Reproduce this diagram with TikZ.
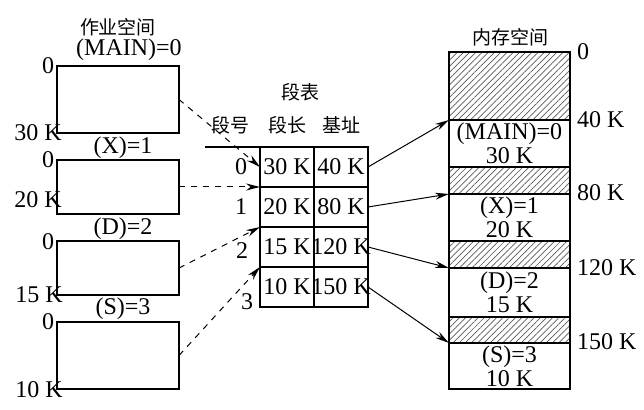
\documentclass[tikz,border=0pt]{standalone}
\usepackage{fontspec}
\setmainfont{Liberation Serif}
\newfontfamily\cjk{Noto Sans CJK SC}
\usetikzlibrary{positioning,arrows.meta,patterns.meta}

\begin{document}
\begin{tikzpicture}[
    x=0.5pt, y=-0.5pt,
    every node/.style={font=\fontsize{12}{12}\selectfont, inner sep=0pt, outer sep=0pt},
    zh/.style={font=\cjk\fontsize{9.5}{10}\selectfont},
    jobbox/.style={draw, line width=1.4pt, minimum width=61pt},
    cell/.style={draw, line width=1.3pt, minimum width=27pt, minimum height=20pt},
    memblk/.style={draw, line width=1.3pt, minimum width=60.5pt, align=center},
    hatch/.style={memblk, pattern={Lines[angle=45, distance=2.2pt, line width=0.35pt]}, pattern color=black!65},
    jobflow/.style={dashed, line width=0.5pt, -{Stealth[length=7pt,width=3.5pt]}},
    memflow/.style={line width=0.5pt, -{Stealth[length=7pt,width=3.5pt]}}
  ]
  \useasboundingbox (0,0) rectangle (644,410);

  % ---------- job space -------------
  \node[zh] (jobtitle) at (118,27) {作业空间};
  \node (mainname) at (129,50) {(MAIN)=0};
  \node[jobbox, minimum height=33.5pt] (jmain) at (118,99.5) {};
  \node (xname) at (123,148) {(X)=1};
  \node[jobbox, minimum height=27pt] (jx) at (118,187) {};
  \node (dname) at (123,229) {(D)=2};
  \node[jobbox, minimum height=27pt] (jd) at (118,268) {};
  \node (sname) at (123,309) {(S)=3};
  \node[jobbox, minimum height=33.5pt] (js) at (118,355.5) {};

  \node (mz) at (48,66) {0};
  \node (mend) at (38,133) {30 K};
  \node (xz) at (48,160) {0};
  \node (xend) at (38,200) {20 K};
  \node (dz) at (48,242) {0};
  \node (dend) at (39,295) {15 K};
  \node (sz) at (48,322) {0};
  \node (send) at (39,390) {10 K};

  % ---------- segment table -------------
  \node[zh] (segtitle) at (300,92) {段表};
  \node[zh] (hnum) at (230,125) {段号};
  \node[zh] (hlen) at (287,125) {段长};
  \node[zh] (hbase) at (341,125) {基址};
  \foreach \i/\yc/\len/\base in {0/167/30 K/40 K, 1/207/20 K/80 K, 2/247/15 K/120 K, 3/287/10 K/150 K} {
    \node[cell] (t\i l) at (287,\yc) {\makebox[0pt]{\len}};
    \node[cell] (t\i r) at (341,\yc) {\makebox[0pt]{\base}};
  }
  \node (n0) at (241,167) {0};
  \node (n1) at (241,207) {1};
  \node (n2) at (242,251) {2};
  \node (n3) at (247,302) {3};
  \coordinate (tabline) at (205,147);
  \draw[line width=0.6pt] (tabline) -- (t0l.north west);

  % ---------- memory space -------------
  \node[zh] (memtitle) at (510,37) {内存空间};
  \node[hatch, minimum height=34pt] (h0) at (509.5,86) {};
  \node[memblk, minimum height=23.5pt] (mmain) at (509.5,143.5) {(MAIN)=0\\30 K};
  \node[hatch, minimum height=13.5pt] (h1) at (509.5,180.5) {};
  \node[memblk, minimum height=23.5pt] (mx) at (509.5,217.5) {(X)=1\\20 K};
  \node[hatch, minimum height=13.5pt] (h2) at (509.5,254.5) {};
  \node[memblk, minimum height=24.5pt] (md) at (509.5,292.5) {(D)=2\\15 K};
  \node[hatch, minimum height=13pt] (h3) at (509.5,330) {};
  \node[memblk, minimum height=23pt] (ms) at (509.5,366) {(S)=3\\10 K};

  \node[anchor=west] (a0) at (577,52) {0};
  \node[anchor=west] (a40) at (577,120) {40 K};
  \node[anchor=west] (a80) at (577,193) {80 K};
  \node[anchor=west] (a120) at (577,268) {120 K};
  \node[anchor=west] (a150) at (577,342) {150 K};

  % ---------- connectors -------------
  \draw[jobflow] (jmain.east) -- (t0l.west);
  \draw[jobflow] (jx.east) -- (t0l.south west);
  \draw[jobflow] (jd.east) -- (t1l.south west);
  \draw[jobflow] (js.east) -- (t2l.south west);

  \draw[memflow] (t0r.east) -- (mmain.north west);
  \draw[memflow] (t1r.east) -- (mx.north west);
  \draw[memflow] (t2r.east) -- (md.north west);
  \draw[memflow] (t3r.east) -- (ms.north west);
\end{tikzpicture}
\end{document}
